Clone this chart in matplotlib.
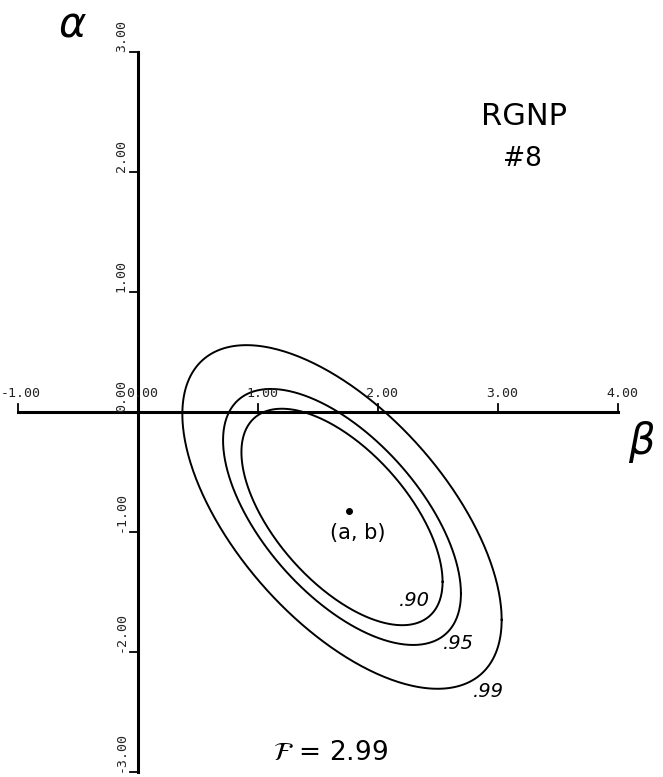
import numpy as np
import matplotlib.pyplot as plt

# Données (axes en unités de beta / alpha)
x_ticks = [-1, 0, 1, 2, 3, 4]
x_tick_labels = ["-1.00", "0.00", "1.00", "2.00", "3.00", "4.00"]
y_ticks = [3, 2, 1, 0, -1, -2, -3]
y_tick_labels = ["3.00", "2.00", "1.00", "0.00", "-1.00", "-2.00", "-3.00"]

# centre de l'ellipse (a, b) et point estimé
centre_beta = 1.70
centre_alpha = -0.875
point_beta = 1.76
point_alpha = -0.825

# matrice de forme de l'ellipse extérieure (.99)
s_bb = 1.77
s_aa = 2.05
s_ab = -1.14

# niveaux de confiance et facteur d'échelle de chaque contour
niveaux = [".90", ".95", ".99"]
echelles = [0.63, 0.745, 1.0]
label_beta = [2.30, 2.667, 2.917]
label_alpha = [-1.575, -1.933, -2.333]

F_value = 2.99


fig = plt.figure(figsize=(6.63, 7.77), dpi=100)
ax = fig.add_axes([0, 0, 1, 1])
ax.set_xlim(-1.15, 4.375)
ax.set_ylim(-3.042, 3.433)
ax.axis("off")

# Axes dessinés à la main comme sur le tracé original
ax.plot([x_ticks[0], x_ticks[-1]], [0, 0], color="black", lw=2.2)
ax.plot([0, 0], [y_ticks[0], y_ticks[-1]], color="black", lw=2.2)
for xt, lab in zip(x_ticks, x_tick_labels):
    ax.plot([xt, xt], [0, 0.07], color="black", lw=1.3)
    # le chiffre commence un peu avant la graduation (le signe moins colle au bord)
    depart = xt - (0.14 if lab.startswith("-") else 0.10)
    ax.text(depart, 0.1, lab, family="DejaVu Sans Mono", fontsize=9.5,
            ha="left", va="bottom", color="#222222")
for yt, lab in zip(y_ticks, y_tick_labels):
    ax.plot([-0.07, 0], [yt, yt], color="black", lw=1.3)
    ax.text(-0.14, yt, lab, family="DejaVu Sans Mono", fontsize=9.5,
            rotation=90, ha="center", va="bottom", color="#222222")

# Ellipses de confiance
S = np.array([[s_bb, s_ab], [s_ab, s_aa]])
L = np.linalg.cholesky(S)
t = np.linspace(0, 2 * np.pi, 400)
cercle = np.vstack([np.cos(t), np.sin(t)])
for ech in echelles:
    pts = ech * (L @ cercle)
    ax.plot(centre_beta + pts[0], centre_alpha + pts[1], color="black", lw=1.4)

for lab, xb, ya in zip(niveaux, label_beta, label_alpha):
    ax.text(xb, ya, lab, fontsize=14, ha="center", va="center", style="italic")

# point (a, b)
ax.plot(point_beta, point_alpha, "o", color="black", ms=4)
ax.text(point_beta + 0.07, point_alpha - 0.18, "(a, b)", fontsize=15,
        ha="center", va="center")

# Annotations
ax.text(-0.55, 3.23, r"$\alpha$", fontsize=30, ha="center", va="center",
        fontweight="bold")
ax.text(4.2, -0.25, r"$\beta$", fontsize=30, ha="center", va="center")
ax.text(3.22, 2.46, "RGNP", fontsize=22, ha="center", va="center")
ax.text(3.2, 2.11, "#8", fontsize=19, ha="center", va="center")
ax.text(1.6, -2.84, r"$\mathcal{F}$ = " + "%.2f" % F_value, fontsize=19,
        ha="center", va="center")

fig.savefig("out.png", dpi=100)
